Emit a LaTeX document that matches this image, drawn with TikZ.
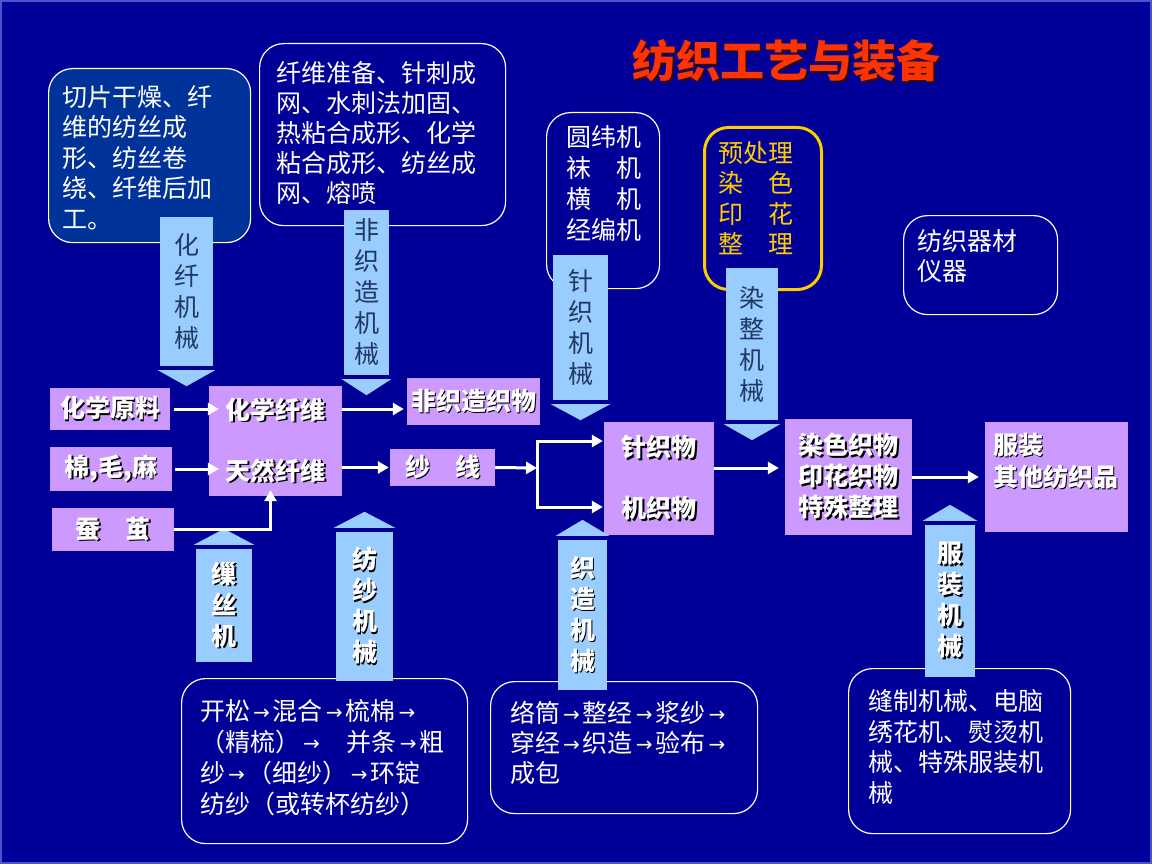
\documentclass[tikz,border=0pt]{standalone}
\usepackage{fontspec}
\setmainfont{Noto Sans CJK SC}
\newfontfamily\arrfont{DejaVu Sans}
\usetikzlibrary{arrows.meta}
\definecolor{bg}{RGB}{0,0,153}
\definecolor{boxa}{RGB}{0,51,153}
\definecolor{purp}{RGB}{204,153,255}
\definecolor{lblue}{RGB}{153,204,255}
\definecolor{darktxt}{RGB}{31,56,100}
\definecolor{gold}{RGB}{255,204,0}
\definecolor{titlered}{RGB}{255,51,0}
\definecolor{titleshadow}{RGB}{40,10,30}
\definecolor{shadowc}{RGB}{0,0,0}
\definecolor{frame}{RGB}{80,80,210}
\newcommand\sh[1]{\makebox[0pt][l]{\hspace{1.6pt}\raisebox{-1.6pt}{\textcolor{shadowc}{#1}}}#1}
\newcommand\tsh[1]{\makebox[0pt][l]{\hspace{2pt}\raisebox{-2pt}{\textcolor{titleshadow}{#1}}}#1}
\newcommand\ra{\hspace{3pt}{\arrfont\fontsize{20}{20}\selectfont\raisebox{1pt}{→}}\hspace{3pt}}
\begin{document}
\begin{tikzpicture}[x=1pt,y=-1pt,
  rbox/.style={draw=white, line width=1.2pt, rounded corners=24pt, inner sep=0pt, anchor=north west},
  rtext/.style={anchor=north west, inner sep=0pt, text=white, align=left, font=\fontsize{25}{30.5}\selectfont},
  pbox/.style={fill=purp, inner sep=0pt, text=white, align=center, font=\bfseries\fontsize{25}{30}\selectfont},
  abody/.style={fill=lblue, inner sep=0pt, align=center, font=\fontsize{25}{31}\selectfont},
  topar/.style={abody, text=darktxt},
  botar/.style={abody, text=white, font=\bfseries\fontsize{25}{31}\selectfont},
  conn/.style={draw=white, line width=3pt, -{Triangle[length=11pt,width=12pt]}},
  wline/.style={draw=white, line width=3pt}
]
\useasboundingbox (0,0) rectangle (1152,864);
\fill[bg] (0,0) rectangle (1152,864);
\draw[frame, line width=2pt] (1,1) rectangle (1151,863);

% title
\node[font=\bfseries\fontsize{44}{44}\selectfont, text=titlered, inner sep=0pt] (title) at (786,62) {\tsh{纺织工艺与装备}};

% rounded boxes
\node[rbox, fill=boxa, minimum width=202pt, minimum height=174pt] (ra) at (48,68) {};
\node[rtext] (ta) at ([xshift=14pt,yshift=-17pt]ra.north west) {切片干燥、纤\\维的纺丝成\\形、纺丝卷\\绕、纤维后加\\工。};

\node[rbox, minimum width=246pt, minimum height=182pt] (rb) at (259,43) {};
\node[rtext, font=\fontsize{25}{30}\selectfont] (tb) at ([xshift=17pt,yshift=-18pt]rb.north west) {纤维准备、针刺成\\网、水刺法加固、\\热粘合成形、化学\\粘合成形、纺丝成\\网、熔喷};

\node[rbox, minimum width=113pt, minimum height=176pt] (rc) at (546,112) {};
\node[rtext, font=\fontsize{25}{31}\selectfont] (tc) at ([xshift=20pt,yshift=-13pt]rc.north west) {圆纬机\\袜　机\\横　机\\经编机};

\node[rbox, draw=gold, line width=3pt, minimum width=117pt, minimum height=162pt] (rd) at (703,126) {};
\node[rtext, text=gold, font=\fontsize{25}{30.5}\selectfont] (td) at ([xshift=15pt,yshift=-15pt]rd.north west) {预处理\\染　色\\印　花\\整　理};

\node[rbox, minimum width=154pt, minimum height=99pt] (re) at (903,215) {};
\node[rtext, font=\fontsize{25}{30}\selectfont] (te) at ([xshift=14pt,yshift=-14pt]re.north west) {纺织器材\\仪器};

\node[rbox, minimum width=286pt, minimum height=165pt] (rf) at (181,678) {};
\node[rtext, font=\fontsize{25}{31}\selectfont] (tf) at ([xshift=19pt,yshift=-21pt]rf.north west) {开松\ra 混合\ra 梳棉\ra\\（精梳）\ra\hspace{24pt}并条\ra 粗\\纱\ra（细纱）\ra 环锭\\纺纱（或转杯纺纱）};

\node[rbox, minimum width=267pt, minimum height=132pt] (rg) at (490,681) {};
\node[rtext, font=\fontsize{25}{30}\selectfont] (tg) at ([xshift=20pt,yshift=-20pt]rg.north west) {络筒\ra 整经\ra 浆纱\ra\\穿经\ra 织造\ra 验布\ra\\成包};

\node[rbox, minimum width=222pt, minimum height=165pt] (rh) at (848,668) {};
\node[rtext, font=\fontsize{25}{30.7}\selectfont] (th) at ([xshift=20pt,yshift=-21pt]rh.north west) {缝制机械、电脑\\绣花机、熨烫机\\械、特殊服装机\\械};

% purple boxes
\node[pbox, minimum width=120pt, minimum height=42pt] (hxyl) at (110,409) {\sh{化学原料}};
\node[pbox, minimum width=122pt, minimum height=44pt] (mmm) at (111,469) {\sh{棉,毛,麻}};
\node[pbox, minimum width=122pt, minimum height=43pt] (cj) at (113,529.5) {\sh{蚕　茧}};
\node[pbox, minimum width=133pt, minimum height=110pt] (fiber) at (275.5,441) {\sh{化学纤维}\\[31pt]\sh{天然纤维}};
\node[pbox, minimum width=133pt, minimum height=47pt] (nwf) at (473.5,401.5) {\sh{非织造织物}};
\node[pbox, minimum width=105pt, minimum height=37pt] (yarn) at (442.5,467.5) {\sh{纱　线}};
\node[pbox, minimum width=110pt, minimum height=113pt] (fab) at (659,478.5) {\sh{针织物}\\[31pt]\sh{机织物}};
\node[pbox, minimum width=127pt, minimum height=116pt, font=\bfseries\fontsize{25}{31}\selectfont] (dye) at (848.5,477) {\sh{染色织物}\\\sh{印花织物}\\\sh{特殊整理}};
\node[pbox, minimum width=143pt, minimum height=110pt] (gar) at (1056.5,477) {};
\node[anchor=north west, inner sep=0pt, text=white, align=left, font=\bfseries\fontsize{25}{32}\selectfont] (tgar) at ([xshift=8pt,yshift=-11pt]gar.north west) {\sh{服装}\\\sh{其他纺织品}};

% block arrows pointing down
\node[topar, minimum width=53pt, minimum height=149pt] (a1) at (186.5,291.5) {化\\纤\\机\\械};
\node[topar, minimum width=45pt, minimum height=165pt] (a2) at (366.5,292.5) {非\\织\\造\\机\\械};
\node[topar, minimum width=55pt, minimum height=145pt] (a3) at (580.5,327.5) {针\\织\\机\\械};
\node[topar, minimum width=52pt, minimum height=152pt] (a4) at (752,344) {染\\整\\机\\械};
\foreach \n in {a1,a2,a3,a4}{
  \fill[lblue] ([xshift=-2pt,yshift=-4pt]\n.south west) -- ([xshift=2pt,yshift=-4pt]\n.south east) -- ([yshift=-20pt]\n.south) -- cycle;
}

% block arrows pointing up
\node[botar, minimum width=56pt, minimum height=113pt] (b1) at (224,605.5) {\sh{缫}\\\sh{丝}\\\sh{机}};
\node[botar, minimum width=57pt, minimum height=149pt] (b2) at (364.5,606.5) {\sh{纺}\\\sh{纱}\\\sh{机}\\\sh{械}};
\node[botar, minimum width=49pt, minimum height=150pt] (b3) at (582.5,615) {\sh{织}\\\sh{造}\\\sh{机}\\\sh{械}};
\node[botar, minimum width=50pt, minimum height=152pt] (b4) at (950,601) {\sh{服}\\\sh{装}\\\sh{机}\\\sh{械}};
\foreach \n in {b1,b2,b3,b4}{
  \fill[lblue] ([xshift=-2pt,yshift=4pt]\n.north west) -- ([xshift=2pt,yshift=4pt]\n.north east) -- ([yshift=20pt]\n.north) -- cycle;
}

% connectors
\coordinate (c1) at (342,409);
\coordinate (split) at (537,468);
\coordinate (kt) at (537,441);
\coordinate (kb) at (537,507);
\coordinate (c2) at (714,468);
\draw[conn, shorten <=4pt, shorten >=-10pt] (hxyl.east) -- (hxyl.east -| fiber.west);
\draw[conn, shorten <=3pt, shorten >=-10pt] (mmm.east) -- (mmm.east -| fiber.west);
\draw[conn, shorten >=-6pt] (cj.east) -| ([xshift=-5pt]fiber.south);
\draw[conn, shorten >=3pt] (c1) -- (c1 -| nwf.west);
\draw[conn, shorten >=1pt] (fiber.east |- yarn.west) -- (yarn.west);
\draw[conn] (yarn.east) -- (split);
\draw[wline, line cap=rect] (kt) -- (kb);
\draw[conn, shorten >=1pt] (kt) -- (kt -| fab.west);
\draw[conn, shorten >=1pt] (kb) -- (kb -| fab.west);
\draw[conn, shorten >=6pt] (c2) -- (c2 -| dye.west);
\draw[conn, shorten >=6pt] (dye.east) -- (gar.west);
\end{tikzpicture}
\end{document}
